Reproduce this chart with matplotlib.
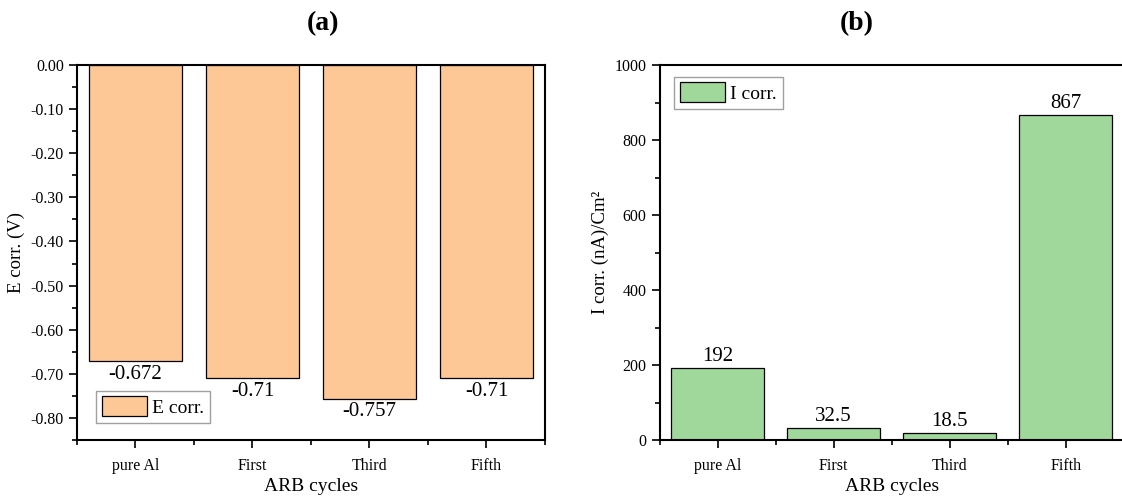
import numpy as np
import matplotlib
matplotlib.use('Agg')
import matplotlib.pyplot as plt
from matplotlib.ticker import MultipleLocator, FixedLocator

plt.rcParams['font.family'] = ['Liberation Serif', 'DejaVu Serif']

cycles = ['pure Al', 'First', 'Third', 'Fifth']
e_corr = [-0.672, -0.71, -0.757, -0.71]
e_labels = ['-0.672', '-0.71', '-0.757', '-0.71']
i_corr = [192, 32.5, 18.5, 867]
i_labels = ['192', '32.5', '18.5', '867']

orange = '#FEC796'
green = '#A0D79B'

fig = plt.figure(figsize=(11.22, 5.0), dpi=100)
ax1 = fig.add_axes([0.0686, 0.12, 0.4171, 0.75])
ax2 = fig.add_axes([0.588, 0.12, 0.4135, 0.75])

x = np.arange(len(cycles))

def style(ax):
    ax.set_xlim(-0.5, 3.5)
    ax.set_xticks(x)
    ax.set_xticklabels(cycles, fontsize=11.5)
    ax.xaxis.set_minor_locator(FixedLocator([-0.5, 0.5, 1.5, 2.5, 3.5]))
    ax.tick_params(axis='both', which='major', direction='out', length=6, width=1.2, labelsize=11.5)
    ax.tick_params(axis='both', which='minor', direction='out', length=3.5, width=1.2)
    ax.tick_params(axis='x', which='major', pad=7)
    for s in ax.spines.values():
        s.set_linewidth(1.5)
    ax.set_xlabel('ARB cycles', fontsize=14, labelpad=3)

# (a) E corr
b1 = ax1.bar(x, e_corr, width=0.8, color=orange, edgecolor='black', linewidth=0.9, label='E corr.')
ax1.set_ylim(-0.85, 0)
ax1.yaxis.set_minor_locator(MultipleLocator(0.05))
yt = np.round(np.arange(-0.8, 0.01, 0.1), 2)
ax1.set_yticks(yt)
ax1.set_yticklabels(['0.00' if v == 0 else '%.2f' % v for v in yt])
style(ax1)
ax1.set_ylabel('E corr. (V)', fontsize=13.5)
for xi, v, t in zip(x, e_corr, e_labels):
    ax1.text(xi, v - 0.008, t, ha='center', va='top', fontsize=15)
ax1.legend(loc='lower left', fontsize=14, frameon=True, fancybox=False, edgecolor='#888888',
           borderpad=0.3, handlelength=2.3, handleheight=1.2, handletextpad=0.3,
           bbox_to_anchor=(0.02, 0.02))

# (b) I corr
b2 = ax2.bar(x, i_corr, width=0.8, color=green, edgecolor='black', linewidth=0.9, label='I corr.')
ax2.set_ylim(0, 1000)
ax2.yaxis.set_major_locator(MultipleLocator(200))
ax2.yaxis.set_minor_locator(MultipleLocator(100))
style(ax2)
ax2.set_ylabel('I corr. (nA)/Cm²', fontsize=13.5)
for xi, v, t in zip(x, i_corr, i_labels):
    ax2.text(xi, v + 6, t, ha='center', va='bottom', fontsize=15)
ax2.legend(loc='upper left', fontsize=14, frameon=True, fancybox=False, edgecolor='#888888',
           borderpad=0.3, handlelength=2.3, handleheight=1.2, handletextpad=0.3,
           bbox_to_anchor=(0.01, 0.995))

fig.text(323 / 1122, 1 - 24 / 500, '(a)', ha='center', va='center', fontsize=20, fontweight='bold')
fig.text(857 / 1122, 1 - 24 / 500, '(b)', ha='center', va='center', fontsize=20, fontweight='bold')

fig.savefig('out.png', dpi=100)
